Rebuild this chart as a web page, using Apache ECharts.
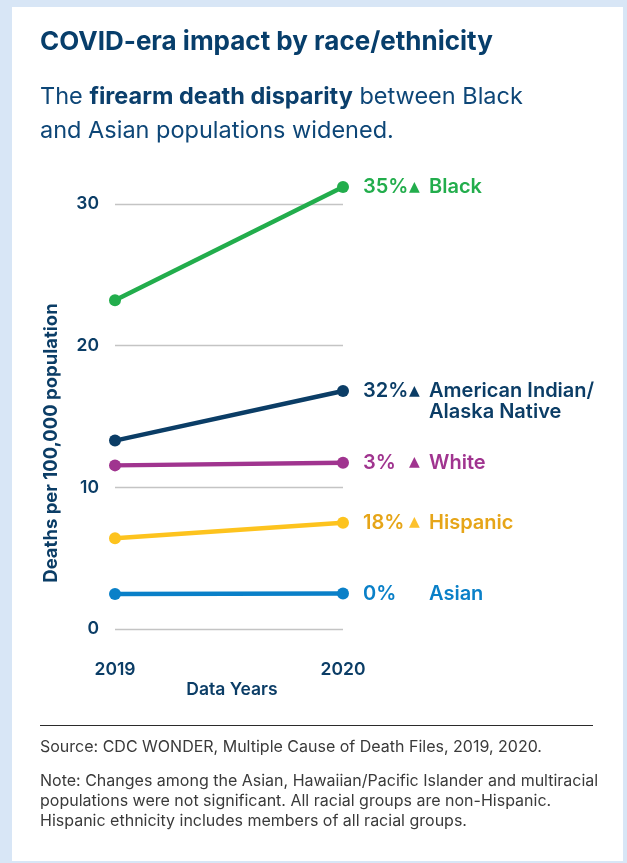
<!DOCTYPE html>
<html>
<head>
<meta charset="utf-8">
<script src="https://cdn.jsdelivr.net/npm/echarts@6/dist/echarts.min.js"></script>
<style>
  html, body { margin: 0; padding: 0; background: #fff; }
  #chart { width: 627px; height: 863px; }
</style>
</head>
<body>
<div id="chart"></div>
<script>
// ---- Data ----
const years = ['2019', '2020'];
const yTicks = [0, 10, 20, 30];
const groupNames = ['Black', 'American Indian/\nAlaska Native', 'White', 'Hispanic', 'Asian'];
const blackRates = [23.2, 31.2];
const aianRates = [13.3, 16.8];
const whiteRates = [11.55, 11.74];
const hispanicRates = [6.4, 7.5];
const asianRates = [2.47, 2.5];
const pctChanges = ['35%', '32%', '3%', '18%', '0%'];
const arrows = ['▲', '▲', '▲', '▲', ''];

const lineColors = ['#22ad4c', '#0b3d66', '#a0348f', '#fdc31e', '#0a80c8'];
const textColors = ['#22ad4c', '#0b3d66', '#a0348f', '#e6a518', '#0a80c8'];
const arrowColors = ['#22ad4c', '#0b3d66', '#a0348f', '#fcc12d', '#0a80c8'];
const seriesData = [blackRates, aianRates, whiteRates, hispanicRates, asianRates];

const FONT = 'Inter, Roboto, sans-serif';
const NAVY = '#0b3d66';

const chart = echarts.init(document.getElementById('chart'), null, { renderer: 'canvas' });

function makeSeries(i) {
  const vals = seriesData[i];
  const nameParts = groupNames[i].split('\n');
  let fmt = '{p|' + pctChanges[i] + '}{t|' + (arrows[i] || ' ') + '}{n|' + nameParts[0] + '}';
  for (let k = 1; k < nameParts.length; k++) {
    fmt += '\n{s|}{n|' + nameParts[k] + '}';
  }
  const extraLines = nameParts.length - 1;
  return {
    type: 'line',
    name: groupNames[i],
    clip: false,
    symbol: 'circle',
    symbolSize: 12,
    lineStyle: { width: 4.5, color: lineColors[i] },
    itemStyle: { color: lineColors[i] },
    emphasis: { disabled: true },
    data: vals.map((v, j) => {
      if (j !== vals.length - 1) return v;
      return {
        value: v,
        label: {
          show: true,
          position: 'right',
          distance: 14,
          offset: [0, extraLines * 10.5],
          formatter: fmt,
          rich: {
            p: { width: 46, fontSize: 20, fontWeight: 600, fontFamily: FONT, color: textColors[i], lineHeight: 21 },
            t: { width: 20, fontSize: 14, fontFamily: '"DejaVu Sans", sans-serif', color: arrowColors[i], lineHeight: 21 },
            n: { fontSize: 20, fontWeight: 600, fontFamily: FONT, color: textColors[i], lineHeight: 21 },
            s: { width: 66, lineHeight: 21 }
          }
        }
      };
    })
  };
}

const option = {
  animation: false,
  backgroundColor: '#d8e6f6',
  grid: { left: 115, right: 284, top: 204, bottom: 234, containLabel: false },
  xAxis: {
    type: 'category',
    data: years,
    boundaryGap: false,
    axisLine: { show: false },
    axisTick: { show: false },
    axisLabel: { margin: 32, fontSize: 17.5, fontWeight: 600, fontFamily: FONT, color: NAVY }
  },
  yAxis: {
    type: 'value',
    min: yTicks[0],
    max: yTicks[yTicks.length - 1],
    interval: 10,
    axisLine: { show: false },
    axisTick: { show: false },
    splitLine: { lineStyle: { color: '#c4c4c4', width: 1.3 } },
    axisLabel: { margin: 16, fontSize: 17.5, fontWeight: 600, fontFamily: FONT, color: NAVY }
  },
  graphic: [
    { type: 'rect', z: -10, shape: { x: 12, y: 7, width: 611, height: 854 }, style: { fill: '#ffffff' }, silent: true },
    { type: 'text', x: 40, y: 42, style: { text: 'COVID-era impact by race/ethnicity', fontSize: 26, fontWeight: 'bold', fontFamily: FONT, fill: '#073e6b', align: 'left', verticalAlign: 'middle' } },
    { type: 'text', x: 40, y: 97, style: {
        text: 'The {b|firearm death disparity} between Black',
        fontSize: 23.5, fontFamily: FONT, fill: '#0d4677', align: 'left', verticalAlign: 'middle',
        rich: { b: { fontSize: 23.5, fontWeight: 'bold', fontFamily: FONT, fill: '#0b3f6c', color: '#0b3f6c' } }
      } },
    { type: 'text', x: 40, y: 130.5, style: { text: 'and Asian populations widened.', fontSize: 23.5, fontFamily: FONT, fill: '#0d4677', align: 'left', verticalAlign: 'middle' } },
    { type: 'text', x: 51, y: 443, rotation: Math.PI / 2, style: { text: 'Deaths per 100,000 population', fontSize: 18.5, fontWeight: 'bold', fontFamily: FONT, fill: NAVY, align: 'center', verticalAlign: 'middle' } },
    { type: 'text', x: 232, y: 690, style: { text: 'Data Years', fontSize: 17.5, fontWeight: 600, fontFamily: FONT, fill: NAVY, align: 'center', verticalAlign: 'middle' } },
    { type: 'line', shape: { x1: 40, y1: 725.5, x2: 593, y2: 725.5 }, style: { stroke: '#2b2b2b', lineWidth: 1.2 } },
    { type: 'text', x: 40, y: 747.5, style: { text: 'Source: CDC WONDER, Multiple Cause of Death Files, 2019, 2020.', fontSize: 16, fontFamily: FONT, fill: '#3a3a3a', align: 'left', verticalAlign: 'middle' } },
    { type: 'text', x: 40, y: 771.5, style: { text: 'Note: Changes among the Asian, Hawaiian/Pacific Islander and multiracial\npopulations were not significant. All racial groups are non-Hispanic.\nHispanic ethnicity includes members of all racial groups.', fontSize: 16, lineHeight: 20, fontFamily: FONT, fill: '#3a3a3a', align: 'left', verticalAlign: 'top' } }
  ],
  series: [0, 1, 2, 3, 4].map(makeSeries)
};

chart.setOption(option);
</script>
</body>
</html>
